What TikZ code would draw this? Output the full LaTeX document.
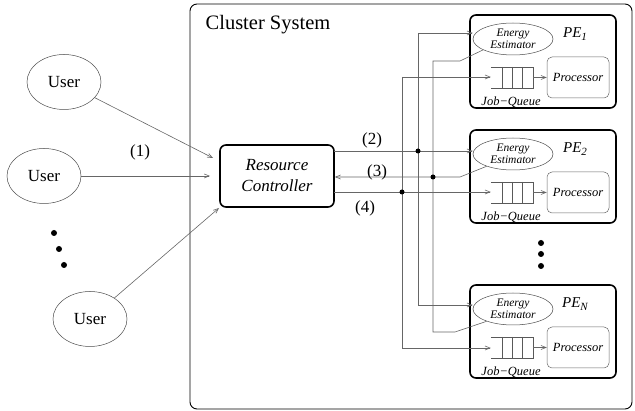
\documentclass[tikz,border=0pt]{standalone}
\usepackage{fontspec}
\setmainfont{Liberation Serif}
\usetikzlibrary{arrows.meta,shapes.geometric}

\tikzset{
  conn/.style={draw=black!60, line width=0.6pt},
  arr/.style={-{Straight Barb[length=5pt,width=4pt]}},
  userbox/.style={ellipse, draw=black!70, line width=0.5pt, minimum width=74pt,
    minimum height=55pt, inner sep=0pt, font=\fontsize{17}{17}\selectfont},
  pebox/.style={draw, line width=1.6pt, rounded corners=6pt, minimum width=146pt,
    minimum height=93pt, inner sep=0pt},
  eebox/.style={ellipse, draw=black!70, line width=0.5pt, minimum width=80pt,
    minimum height=32pt, inner sep=0pt, align=center,
    font=\fontsize{11.5}{12.5}\selectfont\itshape},
  procbox/.style={draw=black!60, line width=0.5pt, rounded corners=5pt,
    minimum width=62pt, minimum height=41pt, inner sep=0pt,
    font=\fontsize{12.5}{13}\selectfont\itshape},
  lbl/.style={font=\fontsize{17}{17}\selectfont, inner sep=0pt},
  bigdot/.style={circle, fill, inner sep=0pt, minimum size=6pt},
  junc/.style={circle, fill, inner sep=0pt, minimum size=5pt},
}

% one processing element: #1 name suffix, #2 top edge (y), #3 subscript
\newcommand{\peunit}[3]{%
  \node[pebox] (pe#1) at (543,#2+46.5) {};
  \node[eebox] (ee#1) at (513,#2+24) {Energy\\Estimator};
  \node[inner sep=0pt, font=\fontsize{15}{15}\selectfont\itshape] (pl#1) at (575,#2+19)
    {PE\raisebox{-0.45ex}{\fontsize{11}{11}\selectfont #3}};
  \node[minimum width=42pt, minimum height=21pt, inner sep=0pt] (q#1) at (512,#2+62.5) {};
  \draw[black!65, line width=0.5pt] (q#1.north west) -- (q#1.north east) -- (q#1.south east) -- (q#1.south west);
  \foreach \qx in {502,512,522} \draw[black!65, line width=0.5pt] (\qx,#2+52) -- (\qx,#2+73);
  \node[procbox] (pr#1) at (578,#2+62.5) {Processor};
  \draw[conn,arr] (q#1.east) -- (pr#1.west);
  \node[inner sep=0pt, font=\fontsize{12.5}{13}\selectfont\itshape] (jq#1) at (511,#2+87) {Job−Queue};
}

\begin{document}
\begin{tikzpicture}[x=1pt,y=-1pt]
\useasboundingbox (0,0) rectangle (635,411);

% cluster frame
\draw[line width=0.9pt, rounded corners=7pt] (190,4) rectangle (632,409);
\node[inner sep=0pt, font=\fontsize{20.5}{20.5}\selectfont] (title) at (268,25) {Cluster System};

% users
\node[userbox] (u1) at (64,82) {User};
\node[userbox] (u2) at (44,176) {User};
\node[userbox] (u3) at (90,319) {User};
\node[bigdot] (d1) at (54,233) {};
\node[bigdot] (d2) at (59,249) {};
\node[bigdot] (d3) at (64,265) {};

% resource controller
\node[draw, line width=1.6pt, rounded corners=6pt, minimum width=114pt, minimum height=62pt,
  inner sep=0pt, align=center, font=\fontsize{17}{21}\selectfont\itshape] (rc) at (277,176)
  {Resource\\Controller};

\coordinate (t1) at (213,158);
\coordinate (t2) at (210,176);
\coordinate (t3) at (219,208);
\draw[conn,arr] (u1) -- (t1);
\draw[conn,arr] (u2) -- (t2);
\draw[conn,arr] (u3) -- (t3);
\node[lbl] (l1) at (140,152) {(1)};

% processing elements
\peunit{1}{15}{1}
\peunit{2}{130}{2}
\peunit{n}{285}{N}

\node[bigdot] (e1) at (541,243) {};
\node[bigdot] (e2) at (541,254) {};
\node[bigdot] (e3) at (541,266) {};

% bus (2): controller to energy estimators
\coordinate (r2) at (334,151);
\coordinate (b2top) at (418,33);
\coordinate (b2bot) at (418,305);
\draw[conn,arr] (r2) -- (r2 -| ee2.west);
\draw[conn] (b2top) -- (b2bot);
\draw[conn,arr] (b2top) -- (b2top -| ee1.west);
\draw[conn,arr] (b2bot) -- (b2bot -| een.west);
\node[junc] (j2) at (418,151) {};
\node[lbl] (l2) at (372,140) {(2)};

% bus (3): energy estimators back to controller
\coordinate (k2) at (460,177);
\coordinate (b3top) at (433,61);
\coordinate (k1) at (460,61);
\coordinate (b3bot) at (433,332);
\coordinate (kn) at (455,332);
\draw[conn,arr] (ee2.205) -- (k2) -- (k2 -| rc.east);
\draw[conn] (ee1.200) -- (k1) -- (b3top) -- (b3bot) -- (kn) -- (een.205);
\node[junc] (j3) at (433,177) {};
\node[lbl] (l3) at (377,172) {(3)};

% bus (4): controller to job queues
\coordinate (r4) at (334,192);
\coordinate (b4top) at (402,77);
\coordinate (b4bot) at (402,348);
\draw[conn,arr] (r4) -- (r4 -| q2.west);
\draw[conn] (b4top) -- (b4bot);
\draw[conn,arr] (b4top) -- (b4top -| q1.west);
\draw[conn,arr] (b4bot) -- (b4bot -| qn.west);
\node[junc] (j4) at (402,192) {};
\node[lbl] (l4) at (365,208) {(4)};
\end{tikzpicture}
\end{document}
